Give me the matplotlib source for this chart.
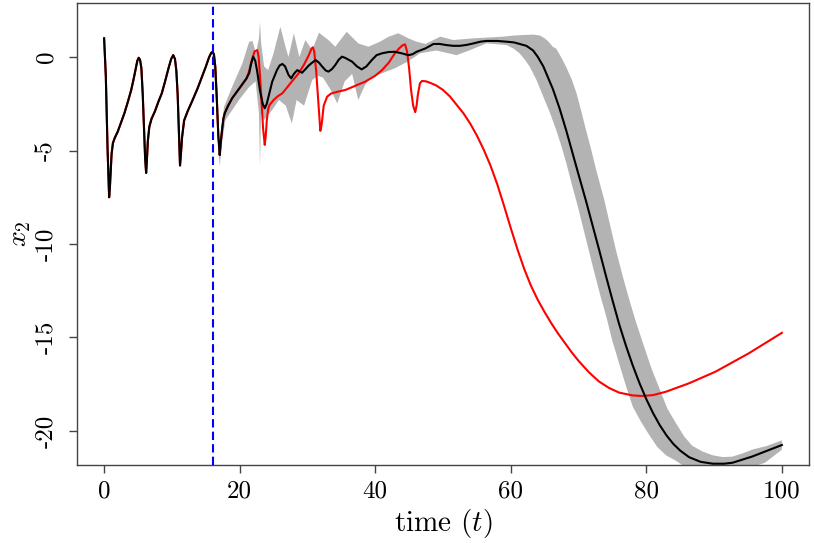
import numpy as np
import matplotlib
matplotlib.use("Agg")
import matplotlib.pyplot as plt

# Computer Modern look (matplotlib ships cmr10)
plt.rcParams["font.family"] = "serif"
plt.rcParams["font.serif"] = ["cmr10", "DejaVu Serif"]
plt.rcParams["mathtext.fontset"] = "cm"
plt.rcParams["axes.formatter.use_mathtext"] = True

# --- data ---
# shared start (truth and estimate overlap before the cut)
t_start = [0.0, 0.25, 0.5, 0.74, 0.85, 0.95, 1.1, 1.3, 1.6, 2.0, 2.5, 3.0, 3.5, 4.0,
           4.4, 4.7, 4.9, 5.1, 5.3, 5.5, 5.7, 5.9, 6.05, 6.2, 6.3, 6.45, 6.67, 7.0,
           7.5, 8.0, 8.5, 9.0, 9.5, 9.9, 10.2, 10.45, 10.65, 10.85, 11.0, 11.2,
           11.35, 11.5, 11.8, 12.3, 13.0, 13.8, 14.5, 15.0, 15.5, 15.8, 16.0, 16.2,
           16.4, 16.6, 16.85, 17.06, 17.2, 17.4, 17.6, 17.8, 18.3, 18.9, 19.5, 20.1,
           20.6, 21.0]
x2_start = [1.0, -1.0, -4.8, -7.5, -7.0, -6.3, -5.2, -4.6, -4.3, -4.0, -3.5, -3.0,
            -2.4, -1.76, -1.1, -0.55, -0.2, -0.04, -0.15, -0.6, -2.0, -4.0, -5.4,
            -6.2, -5.6, -4.5, -3.73, -3.3, -2.9, -2.4, -1.95, -1.3, -0.6, -0.1, 0.1,
            -0.1, -0.7, -2.0, -3.6, -5.8, -5.1, -4.3, -3.4, -2.92, -2.35, -1.67, -1.0,
            -0.52, 0.0, 0.22, 0.28, 0.15, -0.5, -2.0, -4.2, -5.24, -4.6, -3.9, -3.3,
            -3.0, -2.6, -2.2, -1.9, -1.6, -1.35, -1.15]

# posterior mean (black)
t_mean = [21.4, 21.7, 22.0, 22.3, 22.6, 23.0, 23.4, 23.7, 24.0, 24.4, 24.8, 25.5,
          25.9, 26.3, 26.7, 27.2, 27.6, 28.0, 28.5, 28.9, 29.2, 29.7, 30.2, 30.7,
          31.2, 31.7, 32.2, 32.7, 33.1, 33.6, 34.1, 34.6, 35.1, 35.6, 36.6, 37.3,
          38.0, 38.7, 39.5, 40.2, 41.0, 42.0, 42.9, 43.9, 44.9, 45.5, 46.1, 47.4,
          48.6, 49.5, 50.5, 51.5, 52.5, 53.5, 54.5, 55.5, 56.4, 58.0, 59.4, 60.5,
          61.3, 62.3, 63.3, 64.0, 64.8, 65.5, 66.2, 67.2, 68.2, 69.0, 69.7, 70.4,
          71.1, 72.1, 73.1, 74.0, 75.0, 76.0, 77.0, 78.0, 79.0, 80.0, 81.0, 82.0,
          83.0, 84.0, 85.0, 86.3, 88.0, 89.8, 91.5, 92.7, 94.0, 95.6, 97.5, 100.0]
x2_mean = [-0.87, -0.35, 0.02, -0.2, -0.8, -1.8, -2.5, -2.74, -2.5, -1.9, -1.32, -0.7,
           -0.45, -0.37, -0.5, -0.95, -1.14, -0.9, -0.7, -0.78, -0.84, -0.65, -0.45,
           -0.3, -0.16, -0.3, -0.52, -0.72, -0.78, -0.65, -0.43, -0.15, 0.02, -0.05,
           -0.25, -0.5, -0.66, -0.5, -0.16, 0.1, 0.2, 0.27, 0.28, 0.2, 0.1, 0.15,
           0.28, 0.46, 0.7, 0.7, 0.64, 0.6, 0.6, 0.65, 0.73, 0.82, 0.86, 0.86, 0.82,
           0.78, 0.7, 0.6, 0.35, 0.0, -0.5, -1.1, -1.7, -2.75, -3.95, -5.0, -5.9,
           -6.8, -7.7, -9.05, -10.4, -11.65, -13.0, -14.3, -15.45, -16.5, -17.45,
           -18.3, -19.05, -19.7, -20.25, -20.7, -21.05, -21.4, -21.65, -21.75, -21.75,
           -21.7, -21.55, -21.37, -21.1, -20.75]

# true trajectory (red)
t_true = [21.4, 21.8, 22.2, 22.6, 22.8, 23.0, 23.2, 23.45, 23.7, 23.85, 24.0, 24.2,
          24.4, 25.0, 25.6, 26.3, 27.5, 28.7, 29.5, 30.2, 30.6, 30.8, 31.0, 31.3,
          31.6, 31.9, 32.1, 32.4, 32.9, 33.5, 34.5, 35.6, 37.0, 38.5, 40.0, 41.0,
          42.0, 42.9, 43.5, 44.0, 44.4, 44.7, 45.0, 45.3, 45.6, 45.9, 46.1, 46.3,
          46.6, 46.9, 47.5, 48.1, 49.0, 50.0, 51.0, 52.0, 53.0, 54.0, 55.0, 56.0,
          57.0, 58.0, 59.0, 60.0, 61.0, 62.0, 63.0, 64.0, 65.0, 66.0, 67.0, 68.0,
          69.0, 70.0, 71.5, 73.0, 74.5, 76.0, 78.0, 79.5, 81.0, 82.9, 86.3, 90.2,
          95.1, 100.0]
x2_true = [-0.75, -0.15, 0.3, 0.37, 0.0, -1.0, -2.2, -3.8, -4.7, -4.2, -3.4, -2.8,
           -2.57, -2.3, -2.1, -1.94, -1.4, -0.87, -0.4, 0.1, 0.45, 0.52, 0.3, -0.8,
           -2.4, -3.95, -3.6, -2.6, -2.12, -1.95, -1.85, -1.76, -1.55, -1.32, -1.0,
           -0.7, -0.3, 0.2, 0.45, 0.62, 0.68, 0.3, -0.6, -1.8, -2.6, -2.95, -2.6,
           -2.0, -1.4, -1.28, -1.3, -1.38, -1.52, -1.76, -2.1, -2.55, -3.0, -3.55,
           -4.2, -4.95, -5.8, -6.8, -7.95, -9.15, -10.3, -11.35, -12.25, -13.0,
           -13.65, -14.25, -14.8, -15.3, -15.8, -16.25, -16.85, -17.35, -17.7,
           -17.95, -18.1, -18.13, -18.08, -17.9, -17.45, -16.83, -15.85, -14.75]

# credible band
t_upper = [16.0, 16.4, 16.8, 17.06, 17.4, 17.7, 18.9, 20.4, 21.4, 21.9, 22.4, 22.85,
           23.0, 23.15, 23.6, 24.2, 25.0, 26.0, 26.8, 27.2, 28.0, 28.8, 29.7, 30.7,
           31.7, 33.1, 34.1, 35.8, 37.5, 39.0, 40.7, 42.0, 43.4, 44.9, 46.1, 47.4,
           49.6, 51.5, 54.5, 58.9, 60.5, 62.0, 63.3, 64.3, 65.0, 65.5, 66.2, 66.7,
           67.5, 68.2, 69.0, 69.7, 70.4, 71.1, 71.9, 72.6, 73.8, 74.6, 75.5, 76.5,
           77.5, 78.5, 79.5, 80.7, 81.9, 83.1, 84.4, 85.6, 86.8, 88.3, 89.8, 91.3,
           92.7, 94.2, 95.6, 97.8, 100.0]
x2_upper = [0.45, -0.5, -3.5, -4.7, -3.5, -2.66, -1.59, -0.34, 0.82, 0.85, 0.2, 1.0,
            1.89, 0.8, -0.5, -0.7, 0.2, 1.62, 0.5, 0.0, 1.27, 0.0, 0.91, 0.37, 1.3,
            0.91, 0.55, 1.35, 0.73, 0.55, 0.82, 1.09, 1.27, 1.0, 0.82, 0.7, 1.09,
            0.91, 1.0, 1.09, 1.15, 1.18, 1.2, 1.15, 1.0, 0.85, 0.55, 0.45, -0.05,
            -0.55, -1.2, -1.94, -2.9, -3.9, -5.0, -6.04, -7.65, -8.9, -10.3, -11.7,
            -13.0, -14.2, -15.3, -16.6, -17.7, -18.8, -19.6, -20.3, -20.8, -21.1,
            -21.3, -21.4, -21.37, -21.2, -21.0, -20.8, -20.5]
t_lower = [16.0, 16.4, 16.8, 17.06, 17.4, 17.9, 19.9, 21.4, 22.35, 22.85, 23.0, 23.15,
           23.6, 24.8, 25.8, 26.8, 27.7, 28.4, 29.5, 30.7, 31.5, 32.3, 33.5, 34.4,
           35.5, 36.6, 37.5, 38.5, 39.5, 41.0, 42.9, 44.5, 45.9, 46.6, 49.0, 52.0,
           54.0, 56.4, 59.4, 60.4, 61.3, 62.1, 62.8, 63.8, 64.8, 65.8, 66.7, 67.5,
           68.2, 69.0, 69.9, 71.0, 72.1, 73.1, 74.1, 75.0, 76.0, 77.0, 78.0, 79.2,
           80.4, 81.6, 82.9, 84.4, 86.0, 95.0, 97.5, 100.0]
x2_lower = [0.1, -1.5, -4.5, -5.86, -4.6, -3.37, -2.3, -1.6, -1.3, -3.0, -5.87, -3.0,
            -3.37, -2.83, -2.3, -2.6, -3.55, -2.3, -2.6, -1.23, -1.0, -1.1, -1.8,
            -2.48, -1.3, -0.9, -2.3, -1.5, -1.05, -0.87, -0.6, -0.3, 0.02, 0.2, 0.35,
            0.1, 0.37, 0.73, 0.64, 0.45, 0.2, -0.15, -0.52, -1.23, -2.12, -3.0, -3.9,
            -4.8, -5.68, -6.8, -8.0, -9.6, -11.2, -12.6, -13.9, -15.2, -16.4, -17.6,
            -18.7, -19.5, -20.2, -20.85, -21.3, -21.6, -22.0, -22.0, -21.7, -21.0]

t_cut = 16.1

# --- figure ---
fig = plt.figure(figsize=(8.14, 5.43), dpi=100)
ax = fig.add_axes([77 / 814, 1 - 465 / 543, 732 / 814, 462 / 543])

band_t = np.r_[t_upper, t_lower[::-1]]
band_y = np.r_[x2_upper, x2_lower[::-1]]
ax.fill(band_t, band_y, color="#b3b3b3", lw=0, zorder=1)

ax.plot(t_start + t_true, x2_start + x2_true, color="red", lw=1.5, zorder=2)
ax.plot(t_start + t_mean, x2_start + x2_mean, color="black", lw=1.5, zorder=3)
ax.axvline(t_cut, color="blue", lw=1.5, ls=(0, (4, 2)), zorder=4)

ax.set_xlim(-4, 104)
ax.set_ylim(-21.82, 2.89)

ax.set_xticks([0, 20, 40, 60, 80, 100])
ax.set_xticklabels(["0", "20", "40", "60", "80", "100"])
ax.set_yticks([-20, -15, -10, -5, 0])
ax.set_yticklabels(["-20", "-15", "-10", "-5", "0"], rotation=90, va="center")

for s in ax.spines.values():
    s.set_color("#444444")
    s.set_linewidth(1.0)
ax.tick_params(direction="out", length=6, width=1.0, color="#444444",
               labelsize=18, pad=5)
ax.tick_params(axis="y", pad=8)

ax.set_xlabel("time $(t)$", fontsize=21, labelpad=3)
ax.set_ylabel("$x_2$", fontsize=20, labelpad=2)

fig.savefig("out.png", dpi=100)
